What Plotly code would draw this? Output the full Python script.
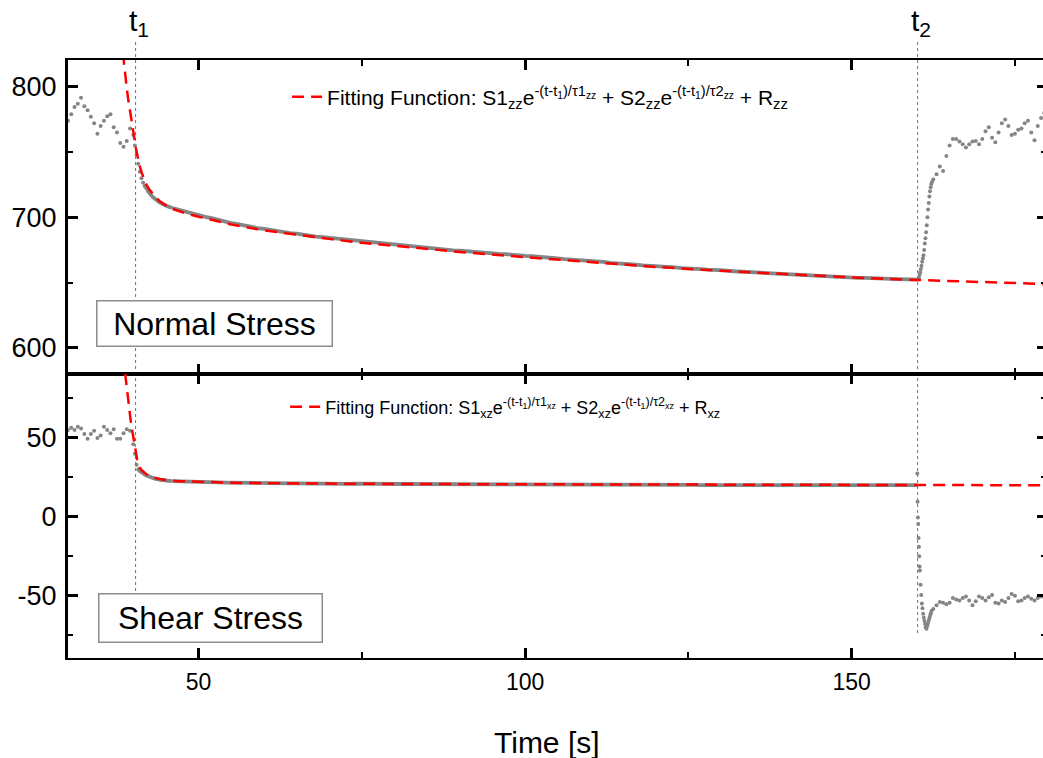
import numpy as np
import plotly.graph_objects as go

# switch-on / switch-off times [s]
t1 = 40.35
t2 = 160.1

# ---- normal stress (zz) ------------------------------------------------
# before t1, every 0.5 s
t_zz_pre = np.arange(30.0, 40.0, 0.5)
zz_pre = [774, 779, 784.5, 787, 791.5, 785, 782, 777, 772, 764,
          770, 774, 777.5, 779, 769, 765, 757, 754, 758.5, 768]
# fast drop, every 0.25 s
t_zz_drop = np.arange(40.0, 46.0, 0.25)
zz_drop = [763, 755, 748, 741, 735, 730, 726.5, 724, 722, 720, 718.5, 717,
           715.5, 714.5, 713.5, 712.5, 711.5, 711, 710.2, 709.6, 709, 708.5, 708, 707.5]
# slow relaxation, every 1 s
t_zz_relax = np.arange(46.0, 161.0, 1.0)
zz_relax = [707.0, 705.6, 704.0, 702.6, 701.6, 700.3, 699.4, 697.9, 696.9, 695.6,
            694.8, 693.7, 692.9, 691.8, 691.2, 690.3, 689.4, 688.9, 687.9, 687.6,
            686.7, 686.2, 685.3, 684.9, 684.4, 683.6, 683.1, 682.6, 681.8, 681.6,
            680.9, 680.3, 679.9, 679.2, 679.0, 678.3, 678.0, 677.3, 677.0, 676.5,
            676.2, 675.5, 675.3, 674.7, 674.5, 674.0, 673.7, 673.1, 672.9, 672.5,
            672.0, 671.8, 671.2, 670.9, 670.5, 670.2, 669.6, 669.4, 668.7, 668.5,
            668.0, 667.7, 667.1, 666.9, 666.5, 666.0, 665.8, 665.1, 664.9, 664.5,
            664.1, 663.7, 663.2, 663.0, 662.5, 662.3, 661.8, 661.6, 661.1, 661.0,
            660.6, 660.3, 659.9, 659.8, 659.4, 659.2, 658.7, 658.6, 658.1, 658.0,
            657.6, 657.3, 657.0, 656.8, 656.4, 656.2, 655.8, 655.6, 655.3, 655.0,
            654.9, 654.5, 654.4, 654.0, 654.0, 653.7, 653.6, 653.2, 653.1, 653.0,
            652.8, 652.6, 652.3, 652.4, 652.3]
# recovery after t2
t_zz_jump = [160.2, 160.3, 160.4, 160.5, 160.6, 160.7, 160.8, 160.9, 161.0, 161.1, 161.2,
             161.3, 161.4, 161.5, 161.6, 161.7, 161.8, 161.9, 162.0, 162.1, 162.2, 162.3]
zz_jump = [652.5, 654, 656, 658, 660.5, 663, 666, 668.5, 671, 675, 680,
           684, 688.5, 694, 700, 706, 711, 716, 720, 723, 725.5, 727]
t_zz_post = np.arange(162.5, 180.0, 0.5)
zz_post = [729, 733, 739, 735.5, 747, 755, 760, 760, 758, 756, 753.5, 756,
           758, 758.5, 756, 760, 766, 769, 761, 757.5, 765, 772, 775, 770,
           763, 764, 767, 768, 772, 774, 765, 759, 770, 776, 780]

# fitted curve (zz)
t_zz_fit = [38.4, 38.6, 38.8, 39.0, 39.2, 39.4, 39.6, 39.8, 40.0, 40.2, 40.4, 40.6,
            40.8, 41.0, 41.3, 41.6, 42.0, 42.5, 43.0, 43.5, 44.0, 45.0, 46.0, 48.0,
            50.0, 55.0, 60.0, 65.0, 70.0, 75.0, 80.0, 90.0, 100.0, 110.0, 120.0,
            130.0, 140.0, 150.0, 160.1, 170.0, 179.3]
zz_fit = [826, 815, 807, 799, 791, 784, 778, 771, 765, 759, 753, 748,
          743, 739, 734, 729.5, 725, 721, 717.5, 715, 712.5, 709, 706.5, 703,
          700.5, 694.5, 690, 686.5, 683.5, 680.5, 678, 673.5, 669.5, 665.8, 662,
          659, 656.3, 654, 652, 650.3, 649]

# ---- shear stress (xz) -------------------------------------------------
t_xz_pre = np.arange(30.0, 40.0, 0.5)
xz_pre = [55, 56.5, 55, 57, 56, 52.5, 49.5, 52.5, 54.5, 50,
          51.5, 57, 55, 53, 55.5, 49.5, 49.5, 53, 55.5, 54.5]
t_xz_drop = np.arange(40.0, 46.0, 0.25)
xz_drop = [46, 40, 33, 30, 29, 28.2, 27.6, 26.8, 26.2, 25.8, 25.4, 25,
           24.6, 24.3, 24, 23.8, 23.6, 23.4, 23.3, 23.1, 23, 22.9, 22.8, 22.7]
t_xz_relax = np.arange(46.0, 161.0, 1.0)
xz_relax = [22.6, 22.4, 22.3, 22.1, 22.0, 22.0, 21.8, 21.8, 21.7, 21.6,
            21.6, 21.5, 21.5, 21.4, 21.4, 21.3, 21.3, 21.2, 21.2, 21.2,
            21.1, 21.1, 21.1, 21.0, 21.0, 21.0, 21.0, 20.9, 21.0, 20.9,
            20.9, 20.9, 20.8, 20.9, 20.8, 20.8, 20.8, 20.8, 20.7, 20.8,
            20.7, 20.7, 20.7, 20.7, 20.6, 20.7, 20.6, 20.6, 20.6, 20.6,
            20.6, 20.5, 20.6, 20.5, 20.5, 20.5, 20.5, 20.4, 20.5, 20.4,
            20.4, 20.4, 20.4, 20.4, 20.3, 20.4, 20.3, 20.3, 20.3, 20.3,
            20.3, 20.3, 20.2, 20.3, 20.2, 20.2, 20.2, 20.2, 20.2, 20.2,
            20.2, 20.1, 20.2, 20.1, 20.2, 20.1, 20.1, 20.1, 20.1, 20.1,
            20.1, 20.1, 20.1, 20.1, 20.0, 20.1, 20.1, 20.0, 20.1, 20.0,
            20.1, 20.0, 20.1, 20.0, 20.0, 20.1, 20.0, 20.0, 20.1, 20.0,
            20.1, 20.0, 20.1, 20.1, 20.1]
t_xz_jump = [160.05, 160.1, 160.15, 160.2, 160.25, 160.3, 160.35, 160.4, 160.45,
             160.55, 160.65, 160.75, 160.85, 160.95, 161.05, 161.15, 161.25, 161.35,
             161.45, 161.55, 161.65, 161.75, 161.85, 161.95, 162.05, 162.15, 162.25]
xz_jump = [27.5, 9.5, -0.5, -4.5, -13.5, -19, -25, -31.5, -34,
           -43, -49.5, -55, -58, -61.5, -64, -66, -68, -70,
           -71, -69.5, -68, -66.5, -65, -63.5, -62, -61, -59.5]
t_xz_post = np.arange(162.5, 180.0, 0.5)
xz_post = [-58.5, -56, -54, -54.5, -55.5, -54.5, -51.5, -52.5, -53, -51.5, -50.5, -53,
           -56, -53.5, -50.5, -51.5, -53, -51, -49.5, -54.5, -55, -53, -54, -51.5,
           -49, -50, -53.5, -53, -51.5, -50.5, -52, -53, -51.5, -50.5, -51]

t_xz_fit = [38.4, 38.6, 38.8, 39.0, 39.2, 39.4, 39.6, 39.8, 40.0, 40.2, 40.4, 40.6,
            40.8, 41.0, 41.3, 41.6, 42.0, 42.5, 43.0, 44.0, 45.0, 47.0, 50.0, 55.0,
            60.0, 70.0, 80.0, 100.0, 130.0, 160.1, 179.3]
xz_fit = [103, 96, 89, 79, 72, 67, 61, 55.5, 50, 44.5, 40, 36,
          33, 31, 29.5, 28.3, 27, 25.9, 25, 24, 23.3, 22.6, 22.1, 21.6,
          21.3, 21.0, 20.8, 20.6, 20.3, 20.1, 20.0]

# tick labels (plain hyphen for negatives, as in the original)
zz_ticks = [600, 700, 800]
xz_ticks = [-50, 0, 50]
xz_ticktext = ["-50", "0", "50"]

zz_label = ("Fitting Function: S1<sub>zz</sub>e<sup>-(t-t<sub>1</sub>)/τ1<sub>zz</sub></sup>"
            " + S2<sub>zz</sub>e<sup>-(t-t<sub>1</sub>)/τ2<sub>zz</sub></sup> + R<sub>zz</sub>")
xz_label = ("Fitting Function: S1<sub>xz</sub>e<sup>-(t-t<sub>1</sub>)/τ1<sub>xz</sub></sup>"
            " + S2<sub>xz</sub>e<sup>-(t-t<sub>1</sub>)/τ2<sub>xz</sub></sup> + R<sub>xz</sub>")

GRAY = "#858585"
RED = "#ff0000"
FONT = "Liberation Sans, Arial, sans-serif"
NARROW = "Liberation Sans Narrow, Arial Narrow, Liberation Sans, sans-serif"

fig = go.Figure()


def add_panel(xa, ya, legend, pre, drop, relax, jump, post, fit, label):
    dots_t = np.concatenate([pre[0], drop[0], jump[0], post[0]])
    dots_v = np.concatenate([pre[1], drop[1], jump[1], post[1]])
    fig.add_trace(go.Scatter(x=dots_t, y=dots_v, mode="markers", xaxis=xa, yaxis=ya,
                             marker=dict(size=4, color=GRAY), showlegend=False))
    fig.add_trace(go.Scatter(x=relax[0], y=relax[1], mode="lines", xaxis=xa, yaxis=ya,
                             line=dict(width=3.8, color=GRAY), showlegend=False))
    fig.add_trace(go.Scatter(x=fit[0], y=fit[1], mode="lines", xaxis=xa, yaxis=ya,
                             line=dict(width=2.5, color=RED, dash="12px,7px"),
                             name=label, legend=legend, showlegend=True))


add_panel("x", "y", "legend",
          (t_zz_pre, zz_pre), (t_zz_drop, zz_drop), (t_zz_relax, zz_relax),
          (t_zz_jump, zz_jump), (t_zz_post, zz_post), (t_zz_fit, zz_fit), zz_label)
add_panel("x2", "y2", "legend2",
          (t_xz_pre, xz_pre), (t_xz_drop, xz_drop), (t_xz_relax, xz_relax),
          (t_xz_jump, xz_jump), (t_xz_post, xz_post), (t_xz_fit, xz_fit), xz_label)

# helpers so the right-hand ticks exist without a right-hand axis line
fig.add_trace(go.Scatter(x=[], y=[], xaxis="x", yaxis="y3", showlegend=False))
fig.add_trace(go.Scatter(x=[], y=[], xaxis="x2", yaxis="y4", showlegend=False))

split = 0.4749
x_common = dict(range=[30, 179.3], showgrid=False, zeroline=False, showline=True,
                linecolor="black", linewidth=2, mirror="ticks", ticks="inside",
                ticklen=10, tickwidth=2.5, tickcolor="black", dtick=50, tick0=0,
                minor=dict(ticks="inside", dtick=25, ticklen=6, tickwidth=2, tickcolor="black"))
y_common = dict(showgrid=False, zeroline=False, showline=True, linecolor="black",
                linewidth=3, ticks="inside", ticklen=10, tickwidth=2.5, tickcolor="black",
                tickfont=dict(family=FONT, size=27, color="black"), ticklabelstandoff=3)
right_common = dict(side="right", showgrid=False, zeroline=False, showline=False,
                    ticks="inside", ticklen=6, tickwidth=2.5, tickcolor="black",
                    showticklabels=False)

fig.update_layout(
    width=1043, height=758,
    margin=dict(l=68, r=0, t=60, b=100, autoexpand=False),
    paper_bgcolor="white", plot_bgcolor="white",
    font=dict(family=FONT, color="black"),
    xaxis=dict(x_common, anchor="y", showticklabels=False),
    xaxis2=dict(x_common, anchor="y2", matches="x",
                tickfont=dict(family=NARROW, size=23, color="black"), ticklabelstandoff=2),
    yaxis=dict(y_common, domain=[split, 1], anchor="x", range=[580, 820.5],
               tickmode="array", tickvals=zz_ticks,
               minor=dict(ticks="inside", dtick=50, ticklen=5, tickwidth=2, tickcolor="black")),
    yaxis2=dict(y_common, domain=[0, split], anchor="x2", range=[-89.5, 90.5],
                tickmode="array", tickvals=xz_ticks, ticktext=xz_ticktext,
                minor=dict(ticks="inside", dtick=25, ticklen=5, tickwidth=2, tickcolor="black")),
    yaxis3=dict(right_common, overlaying="y", anchor="x", range=[580, 820.5],
                tickmode="array", tickvals=zz_ticks,
                minor=dict(ticks="inside", dtick=50, ticklen=2, tickwidth=2, tickcolor="black")),
    yaxis4=dict(right_common, overlaying="y2", anchor="x2", range=[-89.5, 90.5],
                tickmode="array", tickvals=xz_ticks,
                minor=dict(ticks="inside", dtick=25, ticklen=2, tickwidth=2, tickcolor="black")),
    showlegend=True,
    legend=dict(x=0.2247, y=0.938, xanchor="left", yanchor="middle",
                bgcolor="rgba(0,0,0,0)", font=dict(family=FONT, size=21, color="black")),
    legend2=dict(x=0.2227, y=0.4197, xanchor="left", yanchor="middle",
                 bgcolor="rgba(0,0,0,0)", font=dict(family=FONT, size=18, color="black")),
)

# dotted event markers t1 / t2
for t in (t1, t2):
    fig.add_shape(type="line", xref="x", yref="paper", x0=t, x1=t, y0=0.0418, y1=1.0334,
                  line=dict(color="#707070", width=1, dash="dot"), layer="below")

for t, lab in ((t1, "t<sub>1</sub>"), (t2, "t<sub>2</sub>")):
    fig.add_annotation(x=t, y=1.062, xref="x", yref="paper", text=lab,
                       xanchor="center", yanchor="middle", showarrow=False, xshift=3,
                       font=dict(family=FONT, size=30, color="black"))

fig.add_annotation(x=0.1506, y=0.5602, xref="paper", yref="paper", text="Normal Stress",
                   xanchor="center", yanchor="middle",
                   showarrow=False, width=234, height=44, borderpad=0, bgcolor="white",
                   bordercolor="#8c8c8c", borderwidth=1.5,
                   font=dict(family=FONT, size=32, color="black"))
fig.add_annotation(x=0.1465, y=0.0661, xref="paper", yref="paper", text="Shear Stress",
                   xanchor="center", yanchor="middle",
                   showarrow=False, width=222, height=47, borderpad=0, bgcolor="white",
                   bordercolor="#8c8c8c", borderwidth=1.5,
                   font=dict(family=FONT, size=32, color="black"))

fig.add_annotation(x=0.4908, y=-0.142, xref="paper", yref="paper", text="Time [s]",
                   xanchor="center", yanchor="middle",
                   showarrow=False, font=dict(family=NARROW, size=30, color="black"))

# the page body normally adds an 8px margin; drop it so the figure sits at the window corner
fig.write_html("out.html", config={"displayModeBar": False},
               post_script="document.body.style.margin='0';")
